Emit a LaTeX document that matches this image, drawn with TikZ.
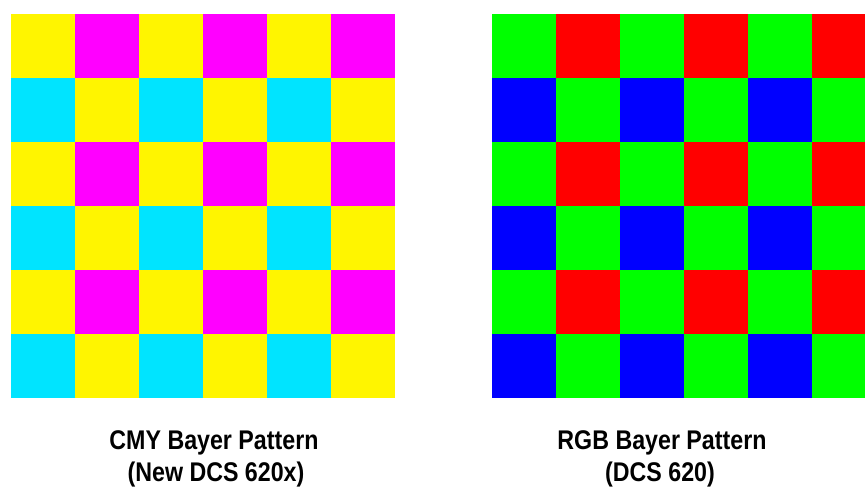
\documentclass[tikz,border=0pt]{standalone}
\usepackage{fontspec}
\setmainfont{Liberation Sans}
\definecolor{cY}{RGB}{255,245,0}
\definecolor{cM}{RGB}{255,0,255}
\definecolor{cC}{RGB}{0,228,255}
\definecolor{cG}{RGB}{0,255,0}
\definecolor{cR}{RGB}{255,0,0}
\definecolor{cB}{RGB}{0,0,255}
\tikzset{caption/.style={font=\bfseries\fontsize{27}{34}\selectfont, align=center, xscale=0.86, transform shape, inner sep=0pt}}
\begin{document}
\begin{tikzpicture}[x=1pt,y=-1pt]
\useasboundingbox[fill=white] (0,0) rectangle (865,488);
% CMY pattern
\foreach \r in {0,...,5}{
  \foreach \c in {0,...,5}{
    \pgfmathtruncatemacro{\rr}{mod(\r,2)}
    \pgfmathtruncatemacro{\cc}{mod(\c,2)}
    \ifnum\rr=0
      \ifnum\cc=0 \def\col{cY}\else\def\col{cM}\fi
    \else
      \ifnum\cc=0 \def\col{cC}\else\def\col{cY}\fi
    \fi
    \fill[\col] (11+64*\c,14+64*\r) rectangle ++(64,64);
  }
}
% RGB pattern
\begin{scope}
\clip (0,0) rectangle (865,488);
\foreach \r in {0,...,5}{
  \foreach \c in {0,...,5}{
    \pgfmathtruncatemacro{\rr}{mod(\r,2)}
    \pgfmathtruncatemacro{\cc}{mod(\c,2)}
    \ifnum\rr=0
      \ifnum\cc=0 \def\col{cG}\else\def\col{cR}\fi
    \else
      \ifnum\cc=0 \def\col{cB}\else\def\col{cG}\fi
    \fi
    \fill[\col] (492+64*\c,14+64*\r) rectangle ++(64,64);
  }
}
\end{scope}
\node[caption, anchor=base] (cmy1) at (214,449) {CMY Bayer Pattern};
\node[caption, anchor=base] (cmy2) at (216,481) {(New DCS 620x)};
\node[caption, anchor=base] (rgb1) at (662,449) {RGB Bayer Pattern};
\node[caption, anchor=base] (rgb2) at (660,481) {(DCS 620)};
\end{tikzpicture}
\end{document}
